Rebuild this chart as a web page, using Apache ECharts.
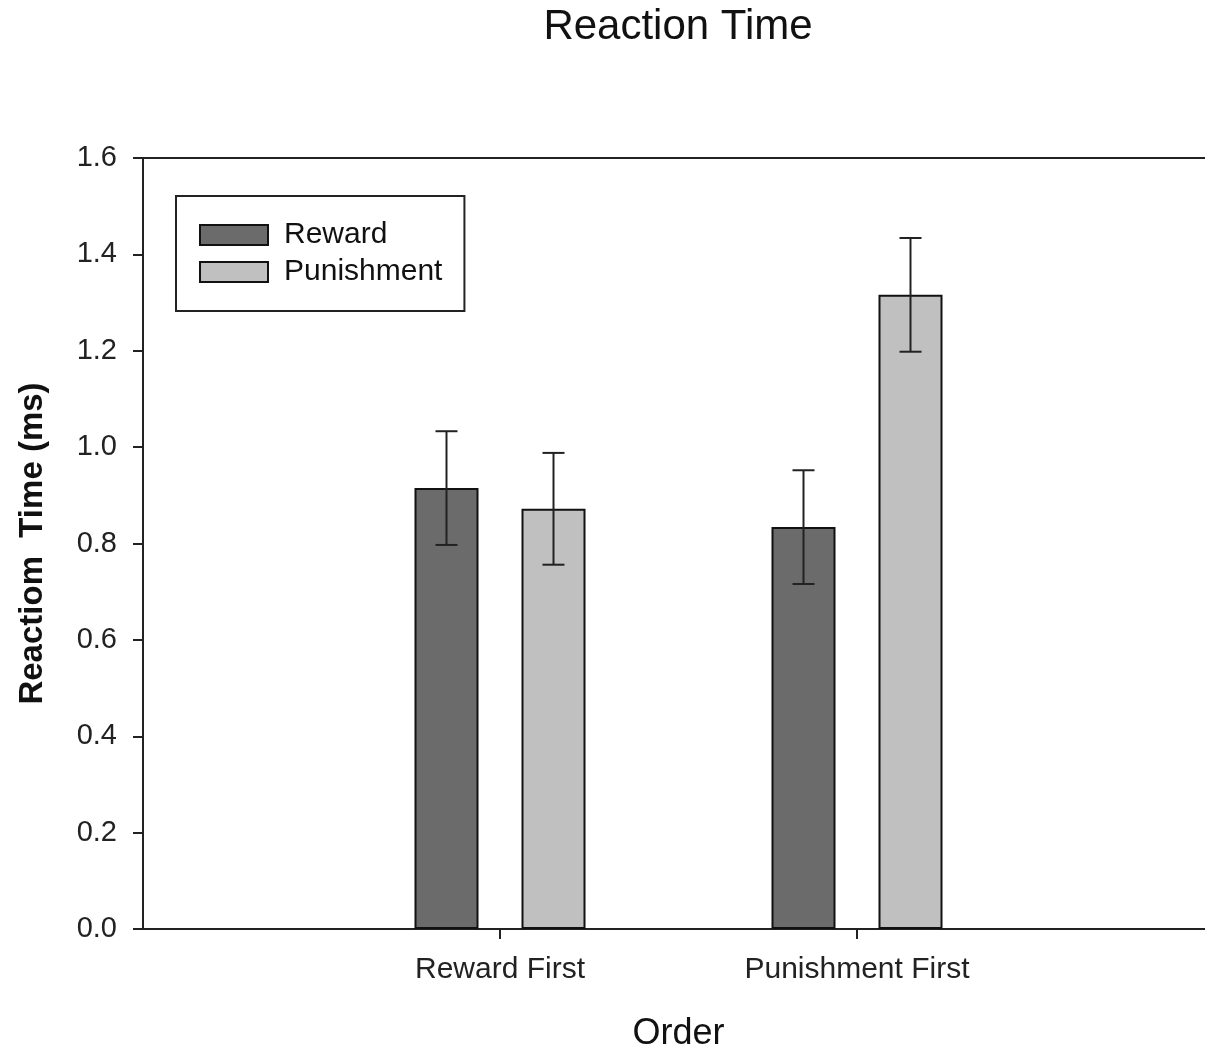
<!DOCTYPE html>
<html>
<head>
<meta charset="utf-8">
<script src="https://cdn.jsdelivr.net/npm/echarts@6/dist/echarts.min.js"></script>
<style>html,body{margin:0;padding:0;background:#fff;}#c{width:1205px;height:1052px;}</style>
</head>
<body>
<div id="c"></div>
<script>
var categories = ['', 'Reward First', 'Punishment First', ''];
var rewardMeans = [null, 0.915, 0.834, null];
var rewardErr = [null, 0.118, 0.118, null];
var punishMeans = [null, 0.872, 1.316, null];
var punishErr = [null, 0.116, 0.118, null];
var yTicks = [0, 0.2, 0.4, 0.6, 0.8, 1.0, 1.2, 1.4, 1.6];

var FONT = '"Liberation Sans", Arial, sans-serif';
var BAR_W = 64, BAR_GAP = 43;
var chart = echarts.init(document.getElementById('c'));

function errSeries(name, means, errs, dir) {
  var data = [];
  for (var i = 0; i < means.length; i++) {
    if (means[i] != null) data.push([i, means[i], errs[i]]);
  }
  return {
    type: 'custom', name: name + ' err', silent: true, z: 5,
    data: data,
    renderItem: function (params, api) {
      var i = api.value(0), m = api.value(1), e = api.value(2);
      var off = dir * (BAR_W + BAR_GAP) / 2;
      var top = api.coord([i, m + e]);
      var bot = api.coord([i, m - e]);
      var x = top[0] + off, cap = 11;
      var st = { stroke: '#222', lineWidth: 2 };
      return { type: 'group', children: [
        { type: 'line', shape: { x1: x, y1: top[1], x2: x, y2: bot[1] }, style: st },
        { type: 'line', shape: { x1: x - cap, y1: top[1], x2: x + cap, y2: top[1] }, style: st },
        { type: 'line', shape: { x1: x - cap, y1: bot[1], x2: x + cap, y2: bot[1] }, style: st }
      ]};
    }
  };
}

chart.setOption({
  backgroundColor: '#fff',
  animation: false,
  title: {
    text: 'Reaction Time', left: 673, top: 1, textAlign: 'center',
    textStyle: { fontFamily: FONT, fontSize: 42, fontWeight: 'normal', color: '#111' }
  },
  legend: {
    orient: 'vertical', left: 176, top: 196,
    padding: [24, 22, 24, 23], itemGap: 7,
    itemWidth: 68, itemHeight: 20, icon: 'rect',
    borderColor: '#222', borderWidth: 2,
    data: ['Reward', 'Punishment'],
    textStyle: { fontFamily: FONT, fontSize: 30, color: '#111', padding: [0, 0, 0, 11] }
  },
  grid: {
    left: 143, top: 158, bottom: 123, right: -9,
    containLabel: false, outerBoundsMode: 'none',
    show: true, borderColor: '#222', borderWidth: 2, backgroundColor: 'transparent'
  },
  xAxis: {
    type: 'category', data: categories, boundaryGap: false,
    name: 'Order', nameLocation: 'middle', nameGap: 87,
    nameTextStyle: { fontFamily: FONT, fontSize: 36, color: '#111' },
    axisLine: { lineStyle: { color: '#222', width: 2 } },
    axisTick: { length: 10, lineStyle: { color: '#222', width: 2 },
      interval: function (i, v) { return v !== ''; } },
    axisLabel: { fontFamily: FONT, fontSize: 30, color: '#222', margin: 26,
      interval: function (i, v) { return v !== ''; } },
    splitLine: { show: false }
  },
  yAxis: {
    type: 'value', min: 0, max: 1.6, interval: 0.2,
    name: 'Reactiom  Time (ms)', nameLocation: 'middle', nameGap: 94,
    nameTextStyle: { fontFamily: FONT, fontSize: 33, fontWeight: 'bold', color: '#111' },
    axisLine: { show: true, lineStyle: { color: '#222', width: 2 } },
    axisTick: { show: true, length: 10, lineStyle: { color: '#222', width: 2 } },
    axisLabel: { fontFamily: FONT, fontSize: 29, color: '#222', margin: 26,
      formatter: function (v) { return yTicks.indexOf(Math.round(v * 10) / 10) >= 0 ? v.toFixed(1) : ''; } },
    splitLine: { show: false }
  },
  series: [
    { type: 'bar', name: 'Reward', data: rewardMeans, barWidth: BAR_W, barGap: (BAR_GAP / BAR_W * 100) + '%',
      itemStyle: { color: '#6b6b6b', borderColor: '#111', borderWidth: 2 } },
    { type: 'bar', name: 'Punishment', data: punishMeans, barWidth: BAR_W,
      itemStyle: { color: '#c0c0c0', borderColor: '#111', borderWidth: 2 } },
    errSeries('Reward', rewardMeans, rewardErr, -1),
    errSeries('Punishment', punishMeans, punishErr, 1)
  ]
});
</script>
</body>
</html>
